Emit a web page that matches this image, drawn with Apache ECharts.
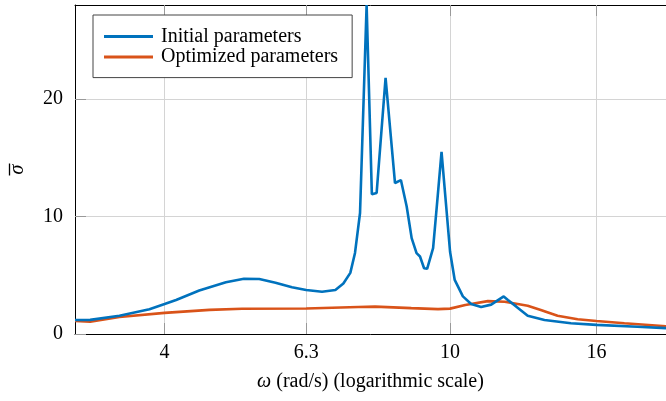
<!DOCTYPE html>
<html><head><meta charset="utf-8">
<script src="https://cdn.jsdelivr.net/npm/echarts@6/dist/echarts.min.js"></script>
<style>html,body{margin:0;padding:0;background:#fff}#c{width:666px;height:401px}</style>
</head><body><div id="c"></div>
<script>
const seriesNames = ['Initial parameters', 'Optimized parameters'];
const omegaInitial = [3.0, 3.15, 3.46, 3.81, 4.0, 4.15, 4.47, 4.87, 5.16, 5.42, 5.71, 6.02, 6.3, 6.63, 6.92, 7.1, 7.26, 7.37, 7.49, 7.65, 7.78, 7.9, 8.13, 8.38, 8.54, 8.7, 8.84, 8.98, 9.08, 9.2, 9.29, 9.47, 9.6, 9.73, 9.85, 10.0, 10.15, 10.42, 10.7, 11.05, 11.41, 11.88, 12.04, 12.36, 12.83, 13.54, 14.74, 16.0, 18.24, 20.0];
const sigmaInitial = [1.19, 1.2, 1.55, 2.1, 2.55, 2.9, 3.7, 4.4, 4.7, 4.68, 4.37, 3.98, 3.75, 3.6, 3.75, 4.3, 5.2, 6.9, 10.3, 28.0, 11.9, 12.0, 21.8, 12.85, 13.1, 10.85, 8.16, 6.88, 6.6, 5.6, 5.55, 7.3, 11.4, 15.5, 11.7, 7.0, 4.6, 3.2, 2.56, 2.3, 2.5, 3.2, 2.9, 2.35, 1.55, 1.19, 0.92, 0.78, 0.62, 0.5];
const omegaOptimized = [3.0, 3.15, 3.46, 4.0, 4.62, 5.13, 6.3, 7.45, 7.86, 8.83, 9.62, 10.0, 10.5, 11.29, 11.92, 12.83, 13.38, 14.12, 15.06, 16.0, 17.5, 20.0];
const sigmaOptimized = [1.1, 1.05, 1.45, 1.8, 2.05, 2.15, 2.17, 2.3, 2.33, 2.2, 2.12, 2.16, 2.47, 2.8, 2.75, 2.41, 2.05, 1.55, 1.25, 1.11, 0.91, 0.66];
const xTicks = [4, 6.3, 10, 16];
const yTicks = [0, 10, 20];

const pair = (xs, ys) => xs.map((x, i) => [x, ys[i]]);
const font = 'Liberation Serif';
const fs = 20;
const tickStyle = { show: true, inside: true, length: 11, lineStyle: { color: '#999', width: 1 } };
const gridLine = { show: true, lineStyle: { color: '#d4d4d4', width: 1 } };

const chart = echarts.init(document.getElementById('c'), null, { renderer: 'canvas' });
chart.setOption({
  animation: false,
  backgroundColor: '#fff',
  grid: { left: 75, top: 5, right: -3, bottom: 67, containLabel: false },
  legend: {
    orient: 'vertical', left: 93, top: 15,
    padding: [11.5, 14, 10.5, 11],
    borderColor: '#444', borderWidth: 1, backgroundColor: '#fff',
    icon: 'rect', itemWidth: 49, itemHeight: 3, itemGap: 0.6,
    textStyle: { fontFamily: font, fontSize: fs, color: '#000', lineHeight: 20, padding: [0, 0, 0, 3] },
    data: seriesNames
  },
  xAxis: [{
    type: 'log', logBase: 10, min: 3, max: 20, position: 'bottom',
    axisLine: { show: true, lineStyle: { color: '#000', width: 1 } },
    axisTick: Object.assign({ customValues: xTicks }, tickStyle),
    axisLabel: { customValues: xTicks, formatter: v => String(v), color: '#000', fontFamily: font, fontSize: fs, margin: 9 },
    splitLine: gridLine,
    name: '{i|ω} (rad/s) (logarithmic scale)', nameLocation: 'middle', nameGap: 38,
    nameTextStyle: { fontFamily: font, fontSize: fs, color: '#000', rich: { i: { fontFamily: font, fontStyle: 'italic', fontSize: fs } } }
  }, {
    type: 'log', logBase: 10, min: 3, max: 20, position: 'top',
    axisLine: { show: true, lineStyle: { color: '#000', width: 1 } },
    axisTick: Object.assign({ customValues: xTicks }, tickStyle),
    axisLabel: { show: false },
    splitLine: { show: false }
  }],
  yAxis: [{
    type: 'value', min: 0, max: 28,
    axisLine: { show: true, lineStyle: { color: '#000', width: 1 } },
    axisTick: Object.assign({ customValues: yTicks }, tickStyle),
    axisLabel: { customValues: yTicks, color: '#000', fontFamily: font, fontSize: fs, margin: 12 },
    splitLine: gridLine,
    name: '{o| }\n{s|σ}', nameLocation: 'middle', nameGap: 50, nameRotate: 90,
    nameTextStyle: {
      color: '#000',
      rich: {
        o: { width: 12, height: 1.3, lineHeight: 3, backgroundColor: '#000', fontSize: 2 },
        s: { fontFamily: font, fontStyle: 'italic', fontSize: fs, lineHeight: 14, color: '#000' }
      }
    }
  }],
  series: [{
    name: seriesNames[0], type: 'line', data: pair(omegaInitial, sigmaInitial),
    showSymbol: false, symbol: 'none', color: '#0072BD',
    lineStyle: { width: 2.6, color: '#0072BD' }, clip: true, z: 3
  }, {
    name: seriesNames[1], type: 'line', data: pair(omegaOptimized, sigmaOptimized),
    showSymbol: false, symbol: 'none', color: '#D95319',
    lineStyle: { width: 2.6, color: '#D95319' }, clip: true, z: 2
  }]
});
</script></body></html>
